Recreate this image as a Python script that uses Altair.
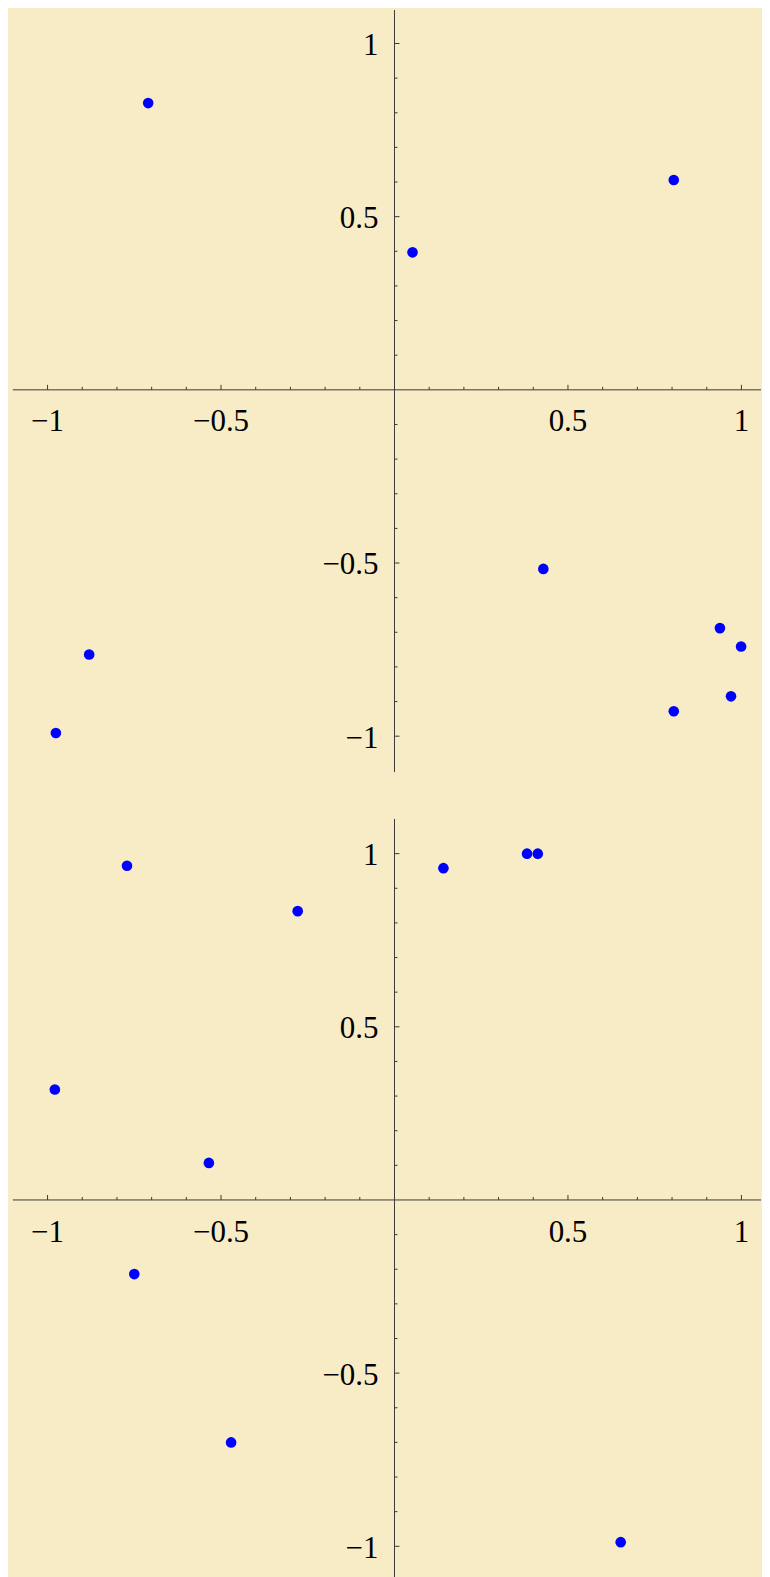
import altair as alt
import pandas as pd

# ---- data ----
top_x = [-0.710, 0.052, 0.805, 0.429, -0.880, -0.976, 0.938, 0.999, 0.970, 0.805]
top_y = [0.828, 0.397, 0.606, -0.517, -0.764, -0.991, -0.688, -0.741, -0.885, -0.928]

bot_x = [-0.771, -0.279, 0.141, 0.382, 0.413, -0.979, -0.535, -0.750, -0.471, 0.652]
bot_y = [0.965, 0.834, 0.958, 1.000, 1.000, 0.319, 0.107, -0.214, -0.700, -0.988]

major_ticks = [-1.0, -0.5, 0.5, 1.0]
major_labels = ["\u22121", "\u22120.5", "0.5", "1"]
minor_ticks = [-0.9, -0.8, -0.7, -0.6, -0.4, -0.3, -0.2, -0.1,
               0.1, 0.2, 0.3, 0.4, 0.6, 0.7, 0.8, 0.9]

X_DOMAIN = [-1.114, 1.0564]
TOP_Y_DOMAIN = [-1.1035, 1.0966]
BOT_Y_DOMAIN = [-1.0943, 1.1001]

BG = "#F7ECC6"
AX = "#3a3a3a"
FONT = "Liberation Serif"
FS = 31
W = 754


def panel(xs_vals, ys_vals, ydom, height):
    xs = alt.Scale(domain=X_DOMAIN, nice=False, zero=False)
    ys = alt.Scale(domain=ydom, nice=False, zero=False)

    def X(f):
        return alt.X(f, type="quantitative", scale=xs, axis=None)

    def Y(f):
        return alt.Y(f, type="quantitative", scale=ys, axis=None)

    xaxis_df = pd.DataFrame({"a": [-1.1], "b": [X_DOMAIN[1]], "z": [0.0]})
    yaxis_df = pd.DataFrame({"a": [ydom[0]], "b": [ydom[1]], "z": [0.0]})
    minor_df = pd.DataFrame({"v": minor_ticks, "z": [0.0] * len(minor_ticks)})
    major_df = pd.DataFrame({"v": major_ticks, "z": [0.0] * len(major_ticks),
                             "label": major_labels})
    pts_df = pd.DataFrame({"x": xs_vals, "y": ys_vals})

    x_axis = alt.Chart(xaxis_df).mark_rule(color=AX, strokeWidth=1).encode(
        x=X("a"), x2="b", y=Y("z"))
    y_axis = alt.Chart(yaxis_df).mark_rule(color=AX, strokeWidth=1).encode(
        x=X("z"), y=Y("a"), y2="b")

    x_minor = alt.Chart(minor_df).mark_rule(color=AX, strokeWidth=1, y2Offset=-3).encode(
        x=X("v"), y=Y("z"), y2="z")
    x_major = alt.Chart(major_df).mark_rule(color=AX, strokeWidth=1, y2Offset=-5).encode(
        x=X("v"), y=Y("z"), y2="z")
    y_minor = alt.Chart(minor_df).mark_rule(color=AX, strokeWidth=1, x2Offset=3).encode(
        y=Y("v"), x=X("z"), x2="z")
    y_major = alt.Chart(major_df).mark_rule(color=AX, strokeWidth=1, x2Offset=5).encode(
        y=Y("v"), x=X("z"), x2="z")

    x_labels = alt.Chart(major_df).mark_text(
        font=FONT, fontSize=FS, color="black", align="center",
        baseline="alphabetic", dy=41.7).encode(x=X("v"), y=Y("z"), text="label:N")
    y_labels = alt.Chart(major_df).mark_text(
        font=FONT, fontSize=FS, color="black", align="right",
        baseline="alphabetic", dx=-16, dy=11.5).encode(x=X("z"), y=Y("v"), text="label:N")

    points = alt.Chart(pts_df).mark_circle(size=113, color="#0000FF", opacity=1).encode(
        x=X("x"), y=Y("y"))

    return alt.layer(x_axis, y_axis, x_minor, x_major, y_minor, y_major,
                     x_labels, y_labels, points).properties(width=W, height=height)


p1 = panel(top_x, top_y, TOP_Y_DOMAIN, 763)
p2 = panel(bot_x, bot_y, BOT_Y_DOMAIN, 761)

chart = alt.vconcat(p1, p2, spacing=45).properties(
    padding=0, background=BG
).configure_view(stroke=None)

chart.save("out.html", embed_options={"renderer": "svg", "actions": False})
